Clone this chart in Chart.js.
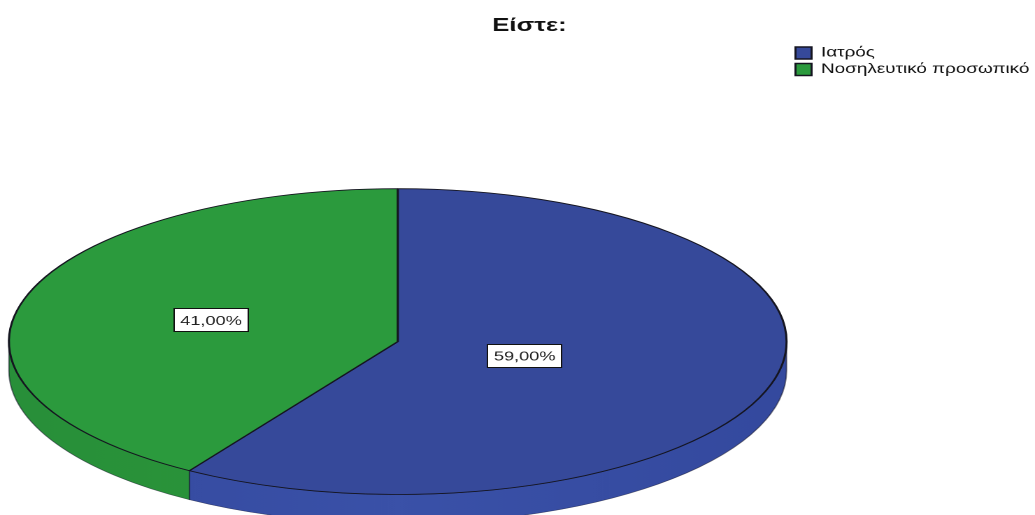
<!DOCTYPE html>
<html>
<head>
<meta charset="utf-8">
<script src="https://cdn.jsdelivr.net/npm/chart.js@4/dist/chart.umd.min.js"></script>
<style>
html,body{margin:0;padding:0;background:#fff;overflow:hidden;}
#c{display:block;width:1035px;height:515px;}
</style>
</head>
<body>
<canvas id="c" width="740" height="515" style="width:1035px;height:515px"></canvas>
<script>
// ---- data ----
const chartTitle = 'Είστε:';
const categories = ['Ιατρός', 'Νοσηλευτικό προσωπικό'];
const percentages = [59.00, 41.00];
const topColors = ['#36499a', '#2b9a3d'];
const sideColors = ['#3a51a8', '#2b973b'];

const FONT = '"Liberation Sans", Arial, sans-serif';

function fmtPct(v) { return v.toFixed(2).replace('.', ',') + '%'; }

function frontRange(a, b) {
  // intersect [a,b] with visible front half [0, PI] (allowing 2PI wraps)
  const out = [];
  for (const off of [-2 * Math.PI, 0, 2 * Math.PI]) {
    const s = Math.max(a + off, 0), e = Math.min(b + off, Math.PI);
    if (e > s) out.push([s, e]);
  }
  return out;
}

const pie3d = {
  id: 'pie3d',
  beforeDatasetsDraw(chart, args, opts) {
    const ctx = chart.ctx;
    const arcs = chart.getDatasetMeta(0).data;
    const {x, y, outerRadius: R} = arcs[0];
    const cx = x + opts.shiftX;
    const cy = y + opts.shiftY;
    const k = opts.tilt, D = opts.depth / k;
    ctx.save();
    ctx.translate(cx, cy);
    ctx.scale(1, k);
    arcs.forEach((arc, i) => {
      frontRange(arc.startAngle, arc.endAngle).forEach(([s, e]) => {
        ctx.beginPath();
        ctx.arc(0, D, R, s, e);
        ctx.arc(0, 0, R, e, s, true);
        ctx.closePath();
        const g = ctx.createLinearGradient(-R, 0, R, 0);
        g.addColorStop(0, opts.sideDark[i]);
        g.addColorStop(0.5, opts.sideColors[i]);
        g.addColorStop(1, opts.sideDark[i]);
        ctx.fillStyle = g;
        ctx.fill();
        ctx.lineWidth = 1;
        ctx.strokeStyle = 'rgba(20,20,40,0.55)';
        ctx.stroke();
      });
    });
    ctx.restore();
    ctx.save();
    ctx.translate(cx, cy);
    ctx.scale(1, k);
    ctx.translate(-x, -y);
  },
  afterDatasetsDraw(chart, args, opts) {
    const ctx = chart.ctx;
    ctx.restore();
    const arcs = chart.getDatasetMeta(0).data;
    const data = chart.data.datasets[0].data;
    arcs.forEach((arc, i) => {
      const {x, y, outerRadius: R, startAngle, endAngle} = arc;
      const cx = x + opts.shiftX;
      const cy = y + opts.shiftY;
      const mid = (startAngle + endAngle) / 2;
      const f = opts.labelRadius[i];
      const px = cx + Math.cos(mid) * R * f;
      const py = cy + Math.sin(mid) * R * f * opts.tilt;
      const txt = fmtPct(data[i]);
      ctx.save();
      ctx.font = '13px ' + FONT;
      const w = ctx.measureText(txt).width + 10;
      const h = 24;
      ctx.fillStyle = '#ffffff';
      ctx.fillRect(Math.round(px - w / 2), Math.round(py - h / 2), Math.round(w), h);
      ctx.lineWidth = 1;
      ctx.strokeStyle = '#111';
      ctx.strokeRect(Math.round(px - w / 2) + 0.5, Math.round(py - h / 2) + 0.5, Math.round(w) - 1, h - 1);
      ctx.fillStyle = '#222';
      ctx.textAlign = 'center';
      ctx.textBaseline = 'middle';
      ctx.fillText(txt, px, py + 1);
      ctx.restore();
    });
  }
};

new Chart(document.getElementById('c'), {
  type: 'pie',
  data: {
    labels: categories,
    datasets: [{
      data: percentages,
      backgroundColor: topColors,
      borderColor: '#151520',
      borderWidth: 1.5,
      radius: 278,
      clip: false
    }]
  },
  options: {
    responsive: false,
    devicePixelRatio: 2,
    animation: false,
    events: [],
    layout: { padding: { left: 11, right: -6 } },
    plugins: {
      title: {
        display: true,
        text: chartTitle,
        color: '#111',
        font: { family: FONT, size: 18.5, weight: 'bold', lineHeight: 1.2 },
        padding: { top: 15, bottom: 6 }
      },
      legend: {
        position: 'right',
        align: 'start',
        fullSize: false,
        labels: {
          color: '#111',
          boxWidth: 11.5,
          boxHeight: 12,
          padding: 3,
          font: { family: FONT, size: 13.5, lineHeight: 1 }
        }
      },
      tooltip: { enabled: false },
      pie3d: {
        tilt: 0.55,
        depth: 29,
        shiftX: -4,
        shiftY: 62.5,
        labelRadius: [0.34, 0.5],
        sideColors: sideColors,
        sideDark: ['#34499e', '#288f39']
      }
    }
  },
  plugins: [pie3d]
});
</script>
</body>
</html>
